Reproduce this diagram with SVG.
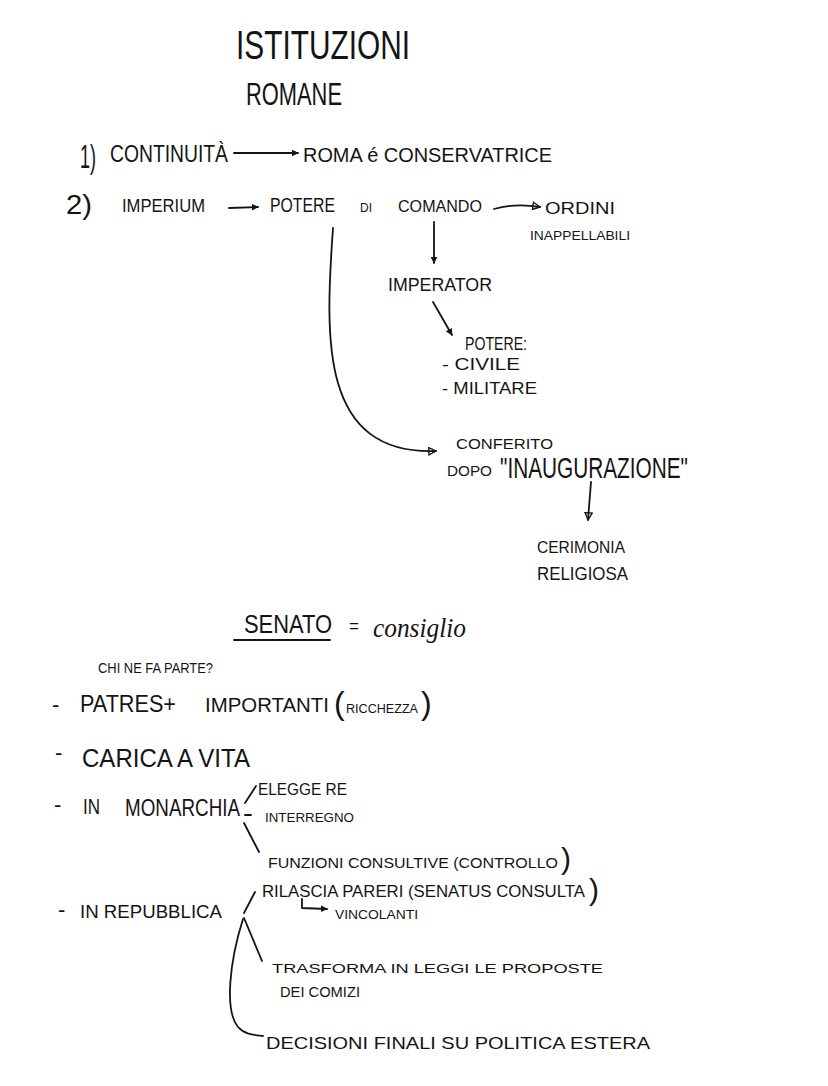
<svg xmlns="http://www.w3.org/2000/svg" width="828" height="1086" viewBox="0 0 828 1086">
<style>
text{font-family:"Liberation Sans",Arial,sans-serif;fill:#141414;}
.ln{fill:none;stroke:#141414;stroke-width:1.8;stroke-linecap:round;stroke-linejoin:round;}
.cur{font-family:"Liberation Serif","Times New Roman",serif;font-style:italic;}
</style>
<defs>
<marker id="ah" viewBox="0 0 10 10" refX="9" refY="5" markerWidth="7" markerHeight="7" orient="auto" markerUnits="userSpaceOnUse">
<path d="M0,0 L10,5 L0,10 Z" fill="#141414"/>
</marker>
<marker id="ao" viewBox="0 0 10 10" refX="9" refY="5" markerWidth="9" markerHeight="9" orient="auto" markerUnits="userSpaceOnUse">
<path d="M1,1 L9,5 L1,9 Z" fill="none" stroke="#141414" stroke-width="1.5"/>
</marker>
</defs>
<rect width="828" height="1086" fill="#fff"/>

<g id="title">
<text x="236" y="59" font-size="40" textLength="174" lengthAdjust="spacingAndGlyphs">ISTITUZIONI</text>
<text x="246" y="105" font-size="32" textLength="96" lengthAdjust="spacingAndGlyphs">ROMANE</text>
</g>

<g id="n1">
<text x="80" y="168" font-size="34" textLength="16" lengthAdjust="spacingAndGlyphs">1)</text>
<text x="110" y="162" font-size="24" textLength="118" lengthAdjust="spacingAndGlyphs">CONTINUITÀ</text>
</g>
<g id="roma">
<text x="303" y="162" font-size="20" textLength="249" lengthAdjust="spacingAndGlyphs">ROMA é CONSERVATRICE</text>
</g>

<g id="n2">
<text x="66" y="214" font-size="28" textLength="26" lengthAdjust="spacingAndGlyphs">2)</text>
<text x="122" y="212" font-size="18" textLength="83" lengthAdjust="spacingAndGlyphs">IMPERIUM</text>
</g>
<g id="potere">
<text x="270" y="212" font-size="20" textLength="65" lengthAdjust="spacingAndGlyphs">POTERE</text>
<text x="360" y="212" font-size="13" textLength="12" lengthAdjust="spacingAndGlyphs">DI</text>
<text x="398" y="212" font-size="16" textLength="84" lengthAdjust="spacingAndGlyphs">COMANDO</text>
</g>
<g id="ordini">
<text x="545" y="214" font-size="16" textLength="70" lengthAdjust="spacingAndGlyphs">ORDINI</text>
<text x="530" y="240" font-size="12" textLength="100" lengthAdjust="spacingAndGlyphs">INAPPELLABILI</text>
</g>
<g id="imperator">
<text x="388" y="291" font-size="18" textLength="104" lengthAdjust="spacingAndGlyphs">IMPERATOR</text>
</g>
<g id="poteri">
<text x="465" y="350" font-size="18" textLength="62" lengthAdjust="spacingAndGlyphs">POTERE:</text>
<text x="442" y="370" font-size="16" textLength="78" lengthAdjust="spacingAndGlyphs">- CIVILE</text>
<text x="442" y="394" font-size="16" textLength="95" lengthAdjust="spacingAndGlyphs">- MILITARE</text>
</g>
<g id="conferito">
<text x="456" y="449" font-size="15" textLength="97" lengthAdjust="spacingAndGlyphs">CONFERITO</text>
<text x="447" y="476" font-size="14" textLength="45" lengthAdjust="spacingAndGlyphs">DOPO</text>
<text x="500" y="478" font-size="30" textLength="188" lengthAdjust="spacingAndGlyphs">"INAUGURAZIONE"</text>
</g>
<g id="cerimonia">
<text x="537" y="553" font-size="16" textLength="88" lengthAdjust="spacingAndGlyphs">CERIMONIA</text>
<text x="537" y="580" font-size="18" textLength="91" lengthAdjust="spacingAndGlyphs">RELIGIOSA</text>
</g>

<g id="senato">
<text x="244" y="633" font-size="26" textLength="88" lengthAdjust="spacingAndGlyphs">SENATO</text>
<line class="ln" x1="234" y1="640" x2="330" y2="640"/>
<text x="349" y="632" font-size="18" textLength="10" lengthAdjust="spacingAndGlyphs">=</text>
<text class="cur" x="373" y="637" font-size="28" textLength="93" lengthAdjust="spacingAndGlyphs">consiglio</text>
</g>
<g id="chi">
<text x="98" y="673" font-size="14" textLength="115" lengthAdjust="spacingAndGlyphs">CHI NE FA PARTE?</text>
</g>
<g id="patres">
<text x="52" y="712" font-size="22">-</text>
<text x="80" y="712" font-size="24" textLength="96" lengthAdjust="spacingAndGlyphs">PATRES+</text>
<text x="205" y="712" font-size="20" textLength="124" lengthAdjust="spacingAndGlyphs">IMPORTANTI</text>
<text y="714" font-size="32"><tspan x="334">(</tspan><tspan x="346" y="713" font-size="12" textLength="72" lengthAdjust="spacingAndGlyphs">RICCHEZZA</tspan><tspan x="421" y="714">)</tspan></text>
</g>
<g id="carica">
<text x="55" y="760" font-size="22">-</text>
<text x="82" y="767" font-size="26" textLength="168" lengthAdjust="spacingAndGlyphs">CARICA A VITA</text>
</g>
<g id="monarchia">
<text x="54" y="812" font-size="22">-</text>
<text x="83" y="814" font-size="22" textLength="17" lengthAdjust="spacingAndGlyphs">IN</text>
<text x="125" y="816" font-size="24" textLength="115" lengthAdjust="spacingAndGlyphs">MONARCHIA</text>
</g>
<g id="mon-items">
<text x="258" y="795" font-size="17" textLength="89" lengthAdjust="spacingAndGlyphs">ELEGGE RE</text>
<text x="265" y="822" font-size="13" textLength="89" lengthAdjust="spacingAndGlyphs">INTERREGNO</text>
<text y="868" font-size="15"><tspan x="268" textLength="290" lengthAdjust="spacingAndGlyphs">FUNZIONI CONSULTIVE (CONTROLLO</tspan><tspan x="561" y="869" font-size="30">)</tspan></text>
</g>
<g id="repubblica">
<text x="58" y="917" font-size="22">-</text>
<text x="80" y="918" font-size="19" textLength="142" lengthAdjust="spacingAndGlyphs">IN REPUBBLICA</text>
</g>
<g id="rep-items">
<text y="897" font-size="16"><tspan x="262" textLength="323" lengthAdjust="spacingAndGlyphs">RILASCIA PARERI (SENATUS CONSULTA</tspan><tspan x="589" y="900" font-size="30">)</tspan></text>
<text x="335" y="919" font-size="12" textLength="83" lengthAdjust="spacingAndGlyphs">VINCOLANTI</text>
<text x="272" y="973" font-size="13" textLength="331" lengthAdjust="spacingAndGlyphs">TRASFORMA IN LEGGI LE PROPOSTE</text>
<text x="280" y="997" font-size="15" textLength="80" lengthAdjust="spacingAndGlyphs">DEI COMIZI</text>
<text x="266" y="1049" font-size="17" textLength="384" lengthAdjust="spacingAndGlyphs">DECISIONI FINALI SU POLITICA ESTERA</text>
</g>

<g id="connectors">
<path class="ln" d="M234,153 L298,153" marker-end="url(#ah)"/>
<path class="ln" d="M229,208 L258,207" marker-end="url(#ah)"/>
<path class="ln" d="M494,209 Q515,203 540,207" marker-end="url(#ao)"/>
<path class="ln" d="M434,222 L434,263" marker-end="url(#ah)"/>
<path class="ln" d="M433,302 L452,335" marker-end="url(#ah)"/>
<path class="ln" d="M333,228 C325,340 320,455 436,451" marker-end="url(#ao)"/>
<path class="ln" d="M591,482 L588,520" marker-end="url(#ao)"/>
<path class="ln" d="M245,803 L256,786"/>
<path class="ln" d="M245,815 L251,815"/>
<path class="ln" d="M244,823 L259,852"/>
<path class="ln" d="M244,913 L255,892"/>
<path class="ln" d="M244,918 L262,961"/>
<path class="ln" d="M243,919 C230,960 224,1010 238,1027 C245,1035 255,1035 263,1036"/>
<path class="ln" d="M302,899 L302,908 L327,909" marker-end="url(#ah)"/>
</g>
</svg>
